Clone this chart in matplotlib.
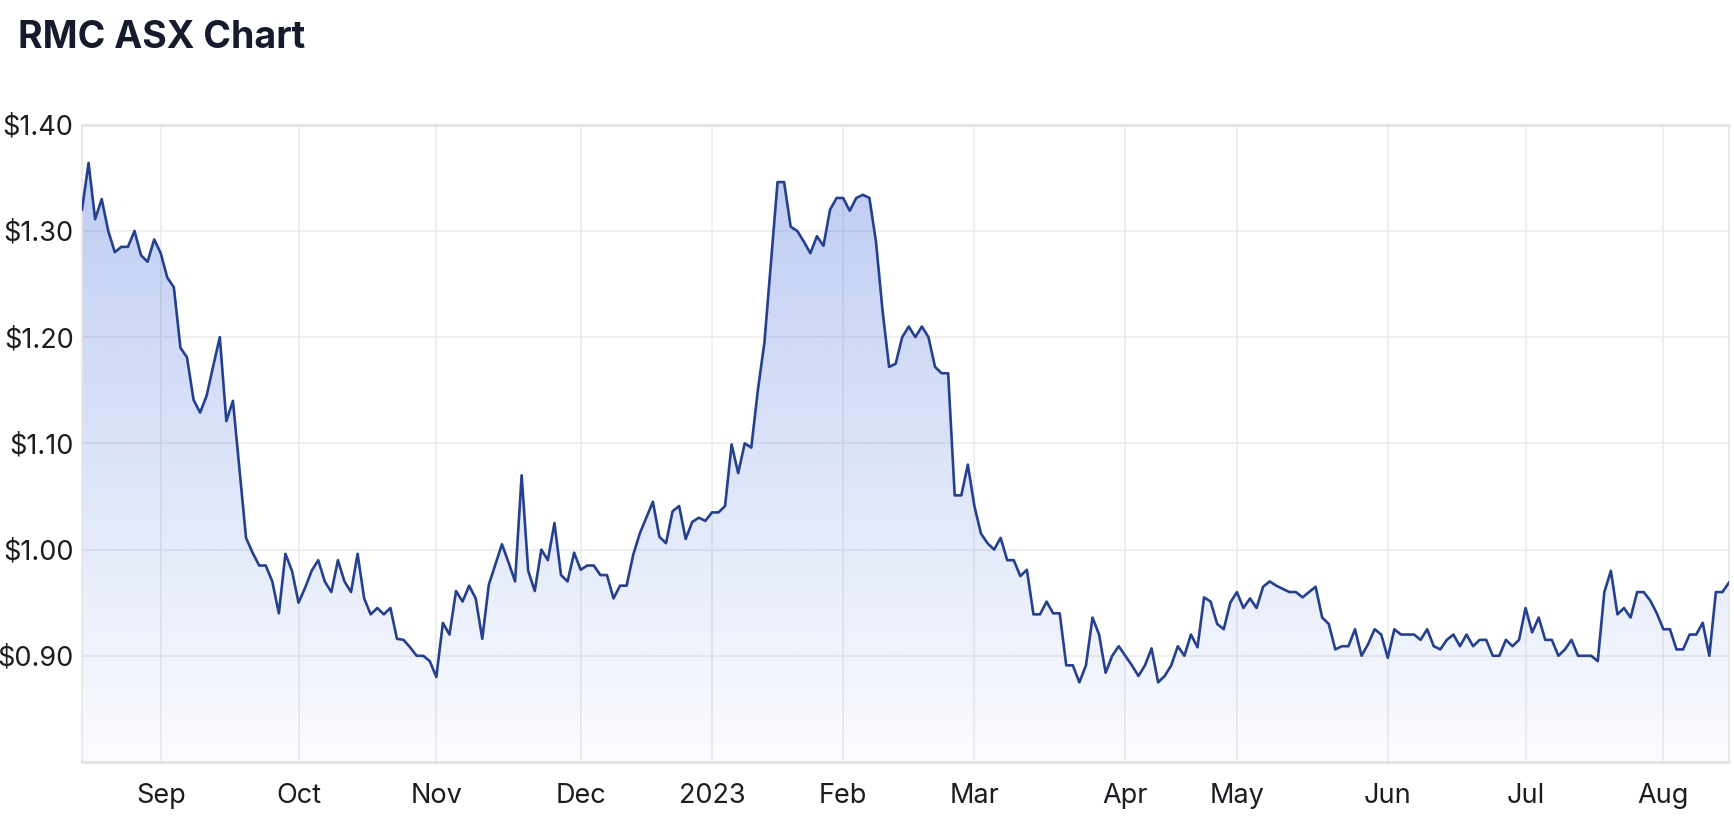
import numpy as np
import matplotlib
matplotlib.use("Agg")
import matplotlib.pyplot as plt

plt.rcParams['font.family'] = ['Inter', 'DejaVu Sans']

# daily closes, one per ASX trading day (16 Aug 2022 - 15 Aug 2023)
prices = [
    1.32, 1.364, 1.311, 1.33, 1.30, 1.28, 1.285, 1.285, 1.30, 1.277, 1.271, 1.292,
    # Sep
    1.279, 1.256, 1.247, 1.19, 1.181, 1.141, 1.129, 1.145, 1.173, 1.20, 1.121,
    1.14, 1.075, 1.011, 0.997, 0.985, 0.985, 0.97, 0.94, 0.996, 0.98,
    # Oct
    0.95, 0.964, 0.98, 0.99, 0.97, 0.96, 0.99, 0.97, 0.96, 0.996, 0.954,
    0.939, 0.945, 0.939, 0.945, 0.916, 0.915, 0.908, 0.90, 0.90, 0.895,
    # Nov
    0.88, 0.931, 0.92, 0.961, 0.951, 0.966, 0.954, 0.916, 0.967, 0.986, 1.005,
    0.988, 0.97, 1.07, 0.98, 0.961, 1.00, 0.99, 1.025, 0.976, 0.97, 0.997,
    # Dec
    0.981, 0.985, 0.985, 0.976, 0.976, 0.954, 0.966, 0.966, 0.995, 1.015,
    1.03, 1.045, 1.012, 1.006, 1.036, 1.041, 1.01, 1.026, 1.03, 1.027,
    # Jan 2023
    1.035, 1.035, 1.041, 1.099, 1.072, 1.10, 1.096, 1.15, 1.195, 1.27,
    1.346, 1.346, 1.304, 1.30, 1.29, 1.279, 1.295, 1.286, 1.32, 1.331,
    # Feb
    1.331, 1.319, 1.331, 1.334, 1.331, 1.29, 1.225, 1.172, 1.175, 1.20,
    1.21, 1.20, 1.21, 1.20, 1.172, 1.166, 1.166, 1.051, 1.051, 1.08,
    # Mar
    1.041, 1.015, 1.006, 1.00, 1.011, 0.99, 0.99, 0.975, 0.981, 0.939, 0.939, 0.951,
    0.94, 0.94, 0.891, 0.891, 0.875, 0.891, 0.936, 0.92, 0.884, 0.90, 0.909,
    # Apr
    0.90, 0.891, 0.881, 0.891, 0.907, 0.875, 0.881, 0.891, 0.909,
    0.90, 0.92, 0.908, 0.955, 0.951, 0.93, 0.925, 0.95,
    # May
    0.96, 0.945, 0.954, 0.945, 0.965, 0.97, 0.966, 0.963, 0.96, 0.96, 0.955, 0.96,
    0.965, 0.936, 0.93, 0.906, 0.909, 0.909, 0.925, 0.90, 0.911, 0.925, 0.92,
    # Jun
    0.898, 0.925, 0.92, 0.92, 0.92, 0.915, 0.925, 0.909, 0.906, 0.915, 0.92,
    0.909, 0.92, 0.909, 0.915, 0.915, 0.90, 0.90, 0.915, 0.909, 0.915,
    # Jul
    0.945, 0.922, 0.936, 0.915, 0.915, 0.90, 0.906, 0.915, 0.90, 0.90, 0.90,
    0.895, 0.96, 0.98, 0.939, 0.945, 0.936, 0.96, 0.96, 0.952, 0.94,
    # Aug
    0.925, 0.925, 0.906, 0.906, 0.92, 0.92, 0.931, 0.90, 0.96, 0.96, 0.969,
]

# index of the first trading day of each month
month_pos = [12, 33, 54, 76, 96, 116, 136, 159, 176, 199, 220, 241]
month_labels = ['Sep', 'Oct', 'Nov', 'Dec', '2023', 'Feb', 'Mar', 'Apr', 'May', 'Jun', 'Jul', 'Aug']
y_ticks = [0.90, 1.00, 1.10, 1.20, 1.30, 1.40]

x = np.arange(len(prices))
y = np.array(prices)
y_min, y_max = 0.80, 1.40

fig = plt.figure(figsize=(17.34, 8.38), dpi=100)
ax = fig.add_axes([82 / 1734, 1 - 762 / 838, (1729 - 82) / 1734, (762 - 124.7) / 838])

# gradient fill under the line
blue = np.array([37, 85, 215]) / 255
n = 256
alpha = np.linspace(0.02, 0.30, n)[:, None]
grad = np.zeros((n, 1, 4))
grad[:, :, :3] = blue
grad[:, :, 3] = alpha
img = ax.imshow(grad, aspect='auto', origin='lower',
                extent=[x[0], x[-1], y_min, y.max()], zorder=2)
poly = ax.fill_between(x, y, y_min, facecolor='none', edgecolor='none')
img.set_clip_path(poly.get_paths()[0], transform=ax.transData)

ax.plot(x, y, color='#24408e', lw=1.9, zorder=3)

ax.set_xlim(x[0], x[-1])
ax.set_ylim(y_min, y_max)
ax.set_xticks(month_pos)
ax.set_xticklabels(month_labels)
ax.set_yticks(y_ticks)
ax.set_yticklabels(['${:.2f}'.format(v) for v in y_ticks])
ax.tick_params(length=0, labelsize=19.5, colors='#1c1c22')
ax.tick_params(axis='x', pad=15)
ax.tick_params(axis='y', pad=6)

ax.grid(True, color='#ececec', lw=1.2, zorder=1)
ax.set_axisbelow(True)
for side in ['left', 'right']:
    ax.spines[side].set_color('#e6e6e6')
    ax.spines[side].set_linewidth(1.2)
for side in ['top', 'bottom']:
    ax.spines[side].set_color('#e2e2e2')
    ax.spines[side].set_linewidth(2)

fig.text(18 / 1734, 1 - 38 / 838, 'RMC ASX Chart', fontsize=27, fontweight='bold',
         color='#151a2c', va='center', ha='left')

fig.savefig('out.png', dpi=100)
